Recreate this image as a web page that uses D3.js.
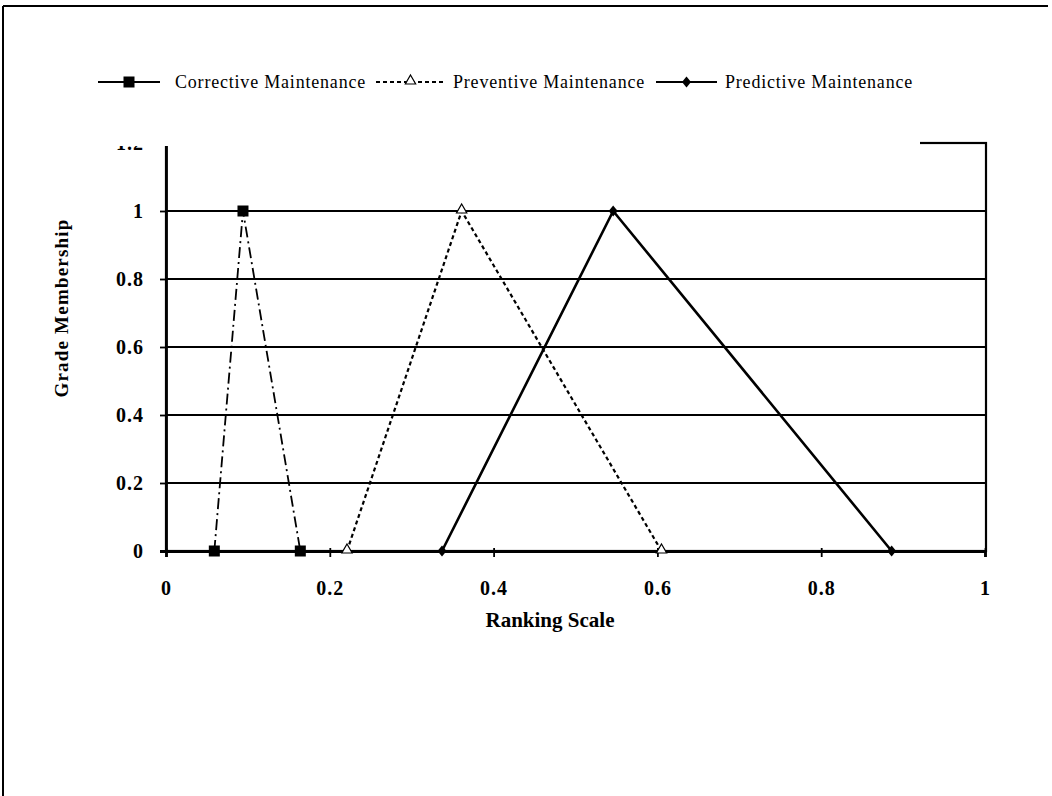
<!DOCTYPE html>
<html>
<head>
<meta charset="utf-8">
<script src="https://cdn.jsdelivr.net/npm/d3@7"></script>
<style>
  body { margin: 0; background: #fff; }
  svg text { font-family: "Liberation Serif", "Times New Roman", serif; }
</style>
</head>
<body>
<script>
window.document.addEventListener('DOMContentLoaded', init, false);

// ranking scale positions of the three triangular fuzzy numbers
var seriesNames = ['Corrective Maintenance', 'Preventive Maintenance', 'Predictive Maintenance'];
var correctiveX = [0.059, 0.094, 0.164];
var correctiveY = [0, 1, 0];
var preventiveX = [0.221, 0.361, 0.605];
var preventiveY = [0, 1, 0];
var predictiveX = [0.337, 0.546, 0.886];
var predictiveY = [0, 1, 0];
var xTicks = [0, 0.2, 0.4, 0.6, 0.8, 1];
var yTicks = [0, 0.2, 0.4, 0.6, 0.8, 1, 1.2];

var svg, x, y;
var plotLeft = 166, plotRight = 986, plotTop = 143, plotBottom = 551;

function init() {
    svg = createCanvas();
    x = d3.scaleLinear().domain([0, 1]).range([plotLeft, plotRight - 1]);
    y = d3.scaleLinear().domain([0, 1.2]).range([plotBottom, plotTop]);

    drawFrame();
    drawGrid();
    drawAxes();
    drawSeries(correctiveX, correctiveY, '11,4,2,4', 1.8, 'square');
    drawSeries(preventiveX, preventiveY, '4,3', 2.2, 'triangle');
    drawSeries(predictiveX, predictiveY, null, 2.6, 'diamond');
    drawLegend();
}

function createCanvas() {
    return d3.select('body')
        .append('svg')
        .attr('width', 1052)
        .attr('height', 796);
}

function drawFrame() {
    svg.append('line')
        .attr('x1', 3).attr('y1', 6).attr('x2', 1048).attr('y2', 6)
        .attr('stroke', '#000').attr('stroke-width', 2);
    svg.append('line')
        .attr('x1', 3).attr('y1', 6).attr('x2', 3).attr('y2', 796)
        .attr('stroke', '#000').attr('stroke-width', 2);
    // plot area border (top part hidden under legend box)
    svg.append('rect')
        .attr('x', plotLeft).attr('y', plotTop)
        .attr('width', plotRight - plotLeft).attr('height', plotBottom - plotTop)
        .attr('fill', 'none').attr('stroke', '#000').attr('stroke-width', 2.2);
}

function drawGrid() {
    svg.append('g')
        .selectAll('line')
        .data(yTicks.filter(function (d) { return d > 0 && d < 1.2; }))
        .join('line')
        .attr('x1', plotLeft).attr('x2', plotRight)
        .attr('y1', function (d) { return y(d); })
        .attr('y2', function (d) { return y(d); })
        .attr('stroke', '#000')
        .attr('stroke-width', 2);
}

function drawAxes() {
    var xAxis = svg.append('g')
        .attr('transform', 'translate(0,' + plotBottom + ')')
        .call(d3.axisBottom(x).tickValues(xTicks).tickSize(6).tickPadding(24)
            .tickFormat(d3.format('~g')));
    xAxis.select('.domain').attr('stroke-width', 2.8);
    xAxis.selectAll('.tick line').attr('stroke-width', 1.8).attr('y1', -3);
    xAxis.selectAll('text')
        .attr('font-size', 20).attr('font-weight', 'bold')
        .attr('font-family', '"Liberation Serif", serif')
        .attr('letter-spacing', 1)
        .attr('fill', '#000');

    var yAxis = svg.append('g')
        .attr('transform', 'translate(' + plotLeft + ',0)')
        .call(d3.axisLeft(y).tickValues(yTicks).tickSize(6).tickPadding(16)
            .tickFormat(d3.format('~g')));
    yAxis.select('.domain').attr('stroke-width', 2.8);
    yAxis.selectAll('.tick line').attr('stroke-width', 1.8);
    yAxis.selectAll('text')
        .attr('font-size', 20).attr('font-weight', 'bold')
        .attr('font-family', '"Liberation Serif", serif')
        .attr('letter-spacing', 1)
        .attr('fill', '#000');

    svg.append('text')
        .attr('x', 550).attr('y', 627)
        .attr('text-anchor', 'middle')
        .attr('font-size', 21).attr('font-weight', 'bold')
        .text('Ranking Scale');

    svg.append('text')
        .attr('transform', 'translate(68,308) rotate(-90)')
        .attr('text-anchor', 'middle')
        .attr('font-size', 19).attr('font-weight', 'bold')
        .attr('letter-spacing', 1.2)
        .text('Grade Membership');
}

function drawMarker(g, shape, cx, cy) {
    if (shape === 'square') {
        g.append('rect')
            .attr('x', cx - 5.5).attr('y', cy - 5.5)
            .attr('width', 11).attr('height', 11)
            .attr('fill', '#000');
    } else if (shape === 'triangle') {
        g.append('path')
            .attr('d', d3.symbol().type(d3.symbolTriangle).size(46)())
            .attr('transform', 'translate(' + cx + ',' + (cy - 1) + ')')
            .attr('fill', '#fff').attr('stroke', '#000').attr('stroke-width', 1.2);
    } else {
        g.append('path')
            .attr('d', 'M0,-5.5L4.5,0L0,5.5L-4.5,0Z')
            .attr('transform', 'translate(' + cx + ',' + cy + ')')
            .attr('fill', '#000');
    }
}

function drawSeries(xs, ys, dash, width, shape) {
    var pts = xs.map(function (d, i) { return [x(d), y(ys[i])]; });
    var g = svg.append('g');
    g.append('path')
        .attr('d', d3.line()(pts))
        .attr('fill', 'none')
        .attr('stroke', '#000')
        .attr('stroke-width', width)
        .attr('stroke-dasharray', dash);
    pts.forEach(function (p) { drawMarker(g, shape, p[0], p[1]); });
}

function drawLegend() {
    // white legend box covers the top of the plot area, as in the original
    svg.append('rect')
        .attr('x', 20).attr('y', 40)
        .attr('width', 900).attr('height', 106)
        .attr('fill', '#fff');

    var items = [
        { x0: 98, x1: 160, tx: 175, dash: null, shape: 'square' },
        { x0: 376, x1: 445, tx: 453, dash: '4,3', shape: 'triangle' },
        { x0: 656, x1: 717, tx: 725, dash: null, shape: 'diamond' }
    ];
    items.forEach(function (it, i) {
        var g = svg.append('g');
        g.append('line')
            .attr('x1', it.x0).attr('x2', it.x1)
            .attr('y1', 82).attr('y2', 82)
            .attr('stroke', '#000').attr('stroke-width', 2)
            .attr('stroke-dasharray', it.dash);
        drawMarker(g, it.shape, (it.x0 + it.x1) / 2, 82);
        g.append('text')
            .attr('x', it.tx).attr('y', 88)
            .attr('font-size', 18)
            .attr('letter-spacing', 0.8)
            .text(seriesNames[i]);
    });
}
</script>
</body>
</html>
